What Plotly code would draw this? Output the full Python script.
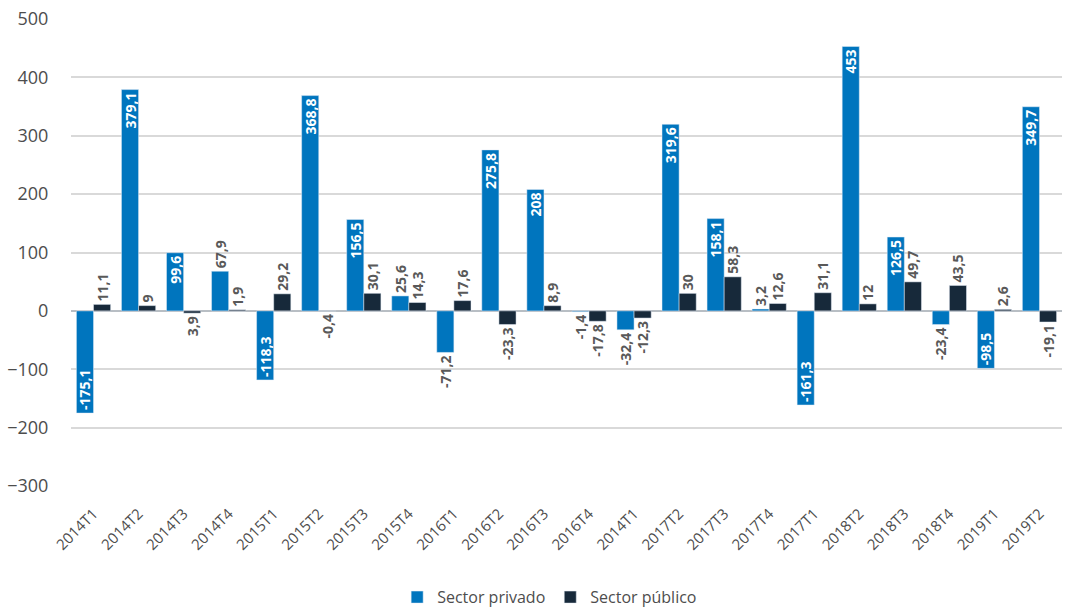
import plotly.graph_objects as go

categories = ["2014T1", "2014T2", "2014T3", "2014T4", "2015T1", "2015T2", "2015T3", "2015T4",
              "2016T1", "2016T2", "2016T3", "2016T4", "2014T1", "2017T2", "2017T3", "2017T4",
              "2017T1", "2018T2", "2018T3", "2018T4", "2019T1", "2019T2"]

privado = [-175.1, 379.1, 99.6, 67.9, -118.3, 368.8, 156.5, 25.6, -71.2, 275.8, 208, -1.4,
           -32.4, 319.6, 158.1, 3.2, -161.3, 453, 126.5, -23.4, -98.5, 349.7]
publico = [11.1, 9, -3.9, 1.9, 29.2, -0.4, 30.1, 14.3, 17.6, -23.3, 8.9, -17.8,
           -12.3, 30, 58.3, 12.6, 31.1, 12, 49.7, 43.5, 2.6, -19.1]

privado_labels = ["-175,1", "379,1", "99,6", "67,9", "-118,3", "368,8", "156,5", "25,6", "-71,2",
                  "275,8", "208", "-1,4", "-32,4", "319,6", "158,1", "3,2", "-161,3", "453",
                  "126,5", "-23,4", "-98,5", "349,7"]
publico_labels = ["11,1", "9", "3,9", "1,9", "29,2", "-0,4", "30,1", "14,3", "17,6", "-23,3",
                  "8,9", "-17,8", "-12,3", "30", "58,3", "12,6", "31,1", "12", "49,7", "43,5",
                  "2,6", "-19,1"]

privado_inside = [True, True, True, False, True, True, True, False, False, True, True, False,
                  False, True, True, False, True, True, True, False, True, True]

x = list(range(len(categories)))
FONT = "Open Sans"
GRAY = "#595959"

fig = go.Figure()
fig.add_trace(go.Bar(
    x=x, y=privado, name="Sector privado", marker_color="#0075BE",
    text=privado_labels,
    textposition=["inside" if v else "outside" for v in privado_inside],
    insidetextanchor="end", textangle=-90,
    insidetextfont=dict(family=FONT, size=14, color="white", weight="bold"),
    outsidetextfont=dict(family=FONT, size=14, color=GRAY, weight="bold"),
    constraintext="none", cliponaxis=False,
))
fig.add_trace(go.Bar(
    x=x, y=publico, name="Sector público", marker_color="#17293A",
    text=publico_labels, textposition="outside", textangle=-90,
    outsidetextfont=dict(family=FONT, size=14, color=GRAY, weight="bold"),
    constraintext="none", cliponaxis=False,
))

fig.update_layout(
    width=1069, height=610,
    margin=dict(l=71, r=7, t=19, b=124, autoexpand=False),
    paper_bgcolor="white", plot_bgcolor="white",
    barmode="group", bargap=0.24, bargroupgap=0,
    font=dict(family=FONT, color="#4D4D4D"),
    showlegend=True,
    legend=dict(orientation="h", x=0.483, xanchor="center", yref="container", y=0.021,
                yanchor="middle", font=dict(size=16, color="#4D4D4D"),
                itemwidth=30, traceorder="normal"),
    xaxis=dict(tickmode="array", tickvals=x, ticktext=categories, tickangle=-45,
               range=[-0.5, len(categories) - 0.5], showgrid=False, showline=False,
               zeroline=False, ticks="outside", ticklen=12, tickcolor="rgba(0,0,0,0)",
               tickfont=dict(size=15, color="#4D4D4D"), automargin=False),
    yaxis=dict(range=[-300, 500], tickvals=[-300, -200, -100, 0, 100, 200, 300, 400, 500],
               showgrid=True, gridcolor="#D9D9D9", gridwidth=1.5,
               zeroline=True, zerolinecolor="#B8BEC4", zerolinewidth=2,
               ticks="outside", ticklen=18, tickcolor="rgba(0,0,0,0)",
               tickfont=dict(size=18, color="#4D4D4D"), automargin=False),
)

fig.write_html("out.html", config={"displayModeBar": False},
               post_script="document.body.style.margin='0';")
